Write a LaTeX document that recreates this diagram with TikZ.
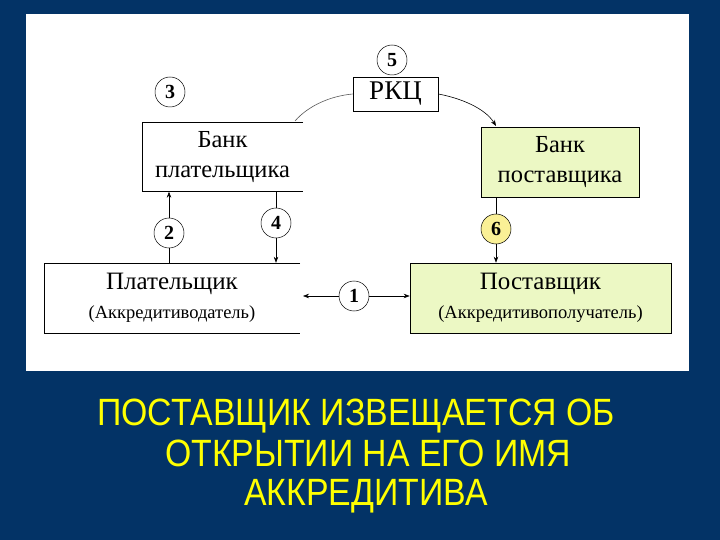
\documentclass[tikz,border=0pt]{standalone}
\usepackage{fontspec}
\setmainfont{Liberation Serif}
\newfontfamily\titlefont[FakeStretch=0.89]{Liberation Sans}
\usetikzlibrary{arrows.meta}
\definecolor{bgblue}{RGB}{3,51,102}
\definecolor{boxgreen}{RGB}{236,248,196}
\definecolor{numyellow}{RGB}{250,240,150}
\definecolor{titleyellow}{RGB}{255,255,0}
\tikzset{
  conn/.style={line width=0.6pt},
  arr/.style={line width=0.6pt,-{Stealth[length=6pt,width=4.5pt]}},
  box/.style={rectangle,inner sep=0pt,align=center,font=\fontsize{24.5}{30}\selectfont},
  numc/.style={circle,draw,line width=0.5pt,minimum size=30pt,inner sep=0pt,font=\bfseries\fontsize{20}{20}\selectfont},
  titleline/.style={text=titleyellow,font=\titlefont\fontsize{38}{40}\selectfont,inner sep=0pt,anchor=base}
}
\begin{document}
\begin{tikzpicture}[x=1pt,y=-1pt]
\useasboundingbox (0,0) rectangle (720,540);
\fill[bgblue] (0,0) rectangle (720,540);
\fill[white] (26,14) rectangle (689,371);
% nodes
\node[box,minimum width=161pt,minimum height=69pt] (bankP) at (222.5,157) {Банк\\плательщика};
\draw[conn] (bankP.north east) -- (bankP.north west) -- (bankP.south west) -- (bankP.south east);
\node[box,draw,conn,minimum width=85pt,minimum height=34pt,font=\fontsize{27}{27}\selectfont] (rkc) at (395.5,94) {РКЦ};
\node[box,draw,conn,fill=boxgreen,minimum width=158pt,minimum height=70pt] (bankS) at (560,162) {Банк\\поставщика};
\node[box,minimum width=256pt,minimum height=70pt,font=\fontsize{25}{29}\selectfont] (payer) at (172,298) {Плательщик\\{\fontsize{18.5}{18.5}\selectfont(Аккредитиводатель)}};
\draw[conn] (payer.north east) -- (payer.north west) -- (payer.south west) -- (payer.south east);
\node[box,draw,conn,fill=boxgreen,minimum width=261pt,minimum height=70pt,font=\fontsize{25}{29}\selectfont] (supp) at (540.5,298) {Поставщик\\{\fontsize{18.5}{18.5}\selectfont(Аккредитивополучатель)}};
% number circles
\node[numc] (c5) at (392,60) {5};
\node[numc] (c3) at (170,92) {3};
\node[numc] (c2) at (169,233) {2};
\node[numc] (c4) at (276,223) {4};
\node[numc] (c1) at (354,296) {1};
\node[numc,fill=numyellow] (c6) at (496,229) {6};
% coordinates
\coordinate (leftend) at (303,296);
\coordinate (bpin) at (295,121);
\coordinate (bsin) at (496,126);
% connectors
\draw[arr] (c2.north) -- (c2 |- bankP.south);
\draw[conn] (c2.south) -- (c2 |- payer.north);
\draw[conn] (c4 |- bankP.south) -- (c4.north);
\draw[arr] (c4.south) -- (c4 |- payer.north);
\draw[arr] (c1.west) -- (leftend);
\draw[arr] (c1.east) -- (supp.west |- c1);
\draw[conn] (c6 |- bankS.south) -- (c6.north);
\draw[arr] (c6.south) -- (c6 |- supp.north);
\draw[conn,gray!70!black] (rkc.west) .. controls (330,96) and (308,106) .. (bpin);
\draw[arr] (rkc.east) .. controls (460,98) and (485,108) .. (bsin);
% title
\node[titleline] (t1) at (356,425) {ПОСТАВЩИК ИЗВЕЩАЕТСЯ ОБ};
\node[titleline] (t2) at (368,466) {ОТКРЫТИИ НА ЕГО ИМЯ};
\node[titleline] (t3) at (366,505) {АККРЕДИТИВА};
\end{tikzpicture}
\end{document}
